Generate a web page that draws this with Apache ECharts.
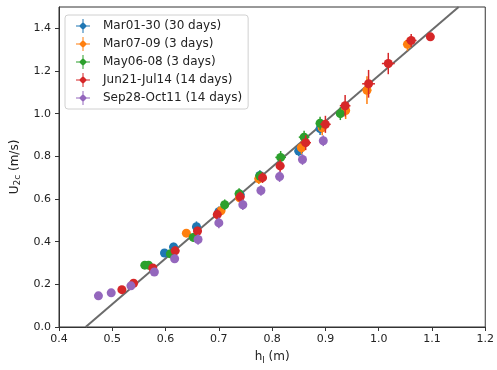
<!DOCTYPE html>
<html><head><meta charset="utf-8">
<script src="https://cdn.jsdelivr.net/npm/echarts@6/dist/echarts.min.js"></script>
<style>html,body{margin:0;padding:0;background:#fff}#c{width:497px;height:370px}</style>
</head><body><div id="c"></div>
<script>
// ---- data ----
const seriesNames = ['Mar01-30 (30 days)', 'Mar07-09 (3 days)', 'May06-08 (3 days)', 'Jun21-Jul14 (14 days)', 'Sep28-Oct11 (14 days)'];
const xTicks = [0.4, 0.5, 0.6, 0.7, 0.8, 0.9, 1.0, 1.1, 1.2];
const yTicks = [0.0, 0.2, 0.4, 0.6, 0.8, 1.0, 1.2, 1.4];

const marH = [0.598, 0.615, 0.658, 0.700, 0.740, 0.777, 0.850, 0.890];
const marU = [0.347, 0.375, 0.470, 0.540, 0.620, 0.710, 0.825, 0.930];
const marHe = [0, 0.008, 0.008, 0.008, 0.008, 0.008, 0.008, 0.008];
const marUe = [0, 0.02, 0.025, 0.025, 0.025, 0.025, 0.025, 0.03];

const mar7H = [0.639, 0.704, 0.739, 0.775, 0.855, 0.894, 0.938, 0.978, 1.054];
const mar7U = [0.440, 0.545, 0.605, 0.695, 0.840, 0.934, 1.015, 1.110, 1.325];
const mar7He = [0, 0.008, 0.008, 0.008, 0.008, 0.008, 0.008, 0.008, 0.008];
const mar7Ue = [0, 0.02, 0.02, 0.025, 0.03, 0.035, 0.04, 0.065, 0.03];

const mayH = [0.561, 0.568, 0.609, 0.652, 0.711, 0.738, 0.777, 0.816, 0.860, 0.890, 0.928];
const mayU = [0.290, 0.290, 0.343, 0.420, 0.573, 0.625, 0.708, 0.795, 0.890, 0.955, 1.000];
const mayHe = [0, 0, 0, 0.008, 0.008, 0.008, 0.008, 0.01, 0.01, 0.008, 0.008];
const mayUe = [0, 0, 0, 0.02, 0.025, 0.025, 0.025, 0.03, 0.03, 0.03, 0.03];

const junH = [0.518, 0.540, 0.576, 0.618, 0.660, 0.697, 0.740, 0.782, 0.815, 0.863, 0.900, 0.937, 0.981, 1.018, 1.061, 1.097];
const junU = [0.175, 0.205, 0.277, 0.357, 0.450, 0.527, 0.610, 0.700, 0.755, 0.864, 0.950, 1.037, 1.140, 1.235, 1.343, 1.360];
const junHe = [0, 0.006, 0.006, 0.008, 0.008, 0.008, 0.008, 0.008, 0.008, 0.01, 0.01, 0.01, 0.012, 0.012, 0.01, 0];
const junUe = [0, 0.01, 0.015, 0.02, 0.02, 0.025, 0.025, 0.025, 0.03, 0.035, 0.04, 0.05, 0.065, 0.05, 0.03, 0];

const sepH = [0.474, 0.498, 0.535, 0.579, 0.617, 0.661, 0.700, 0.745, 0.779, 0.814, 0.857, 0.896];
const sepU = [0.146, 0.160, 0.193, 0.258, 0.320, 0.410, 0.488, 0.573, 0.640, 0.705, 0.785, 0.873];
const sepHe = [0, 0, 0.006, 0.006, 0.007, 0.007, 0.007, 0.007, 0.007, 0.007, 0.007, 0.007];
const sepUe = [0, 0, 0.01, 0.015, 0.02, 0.025, 0.025, 0.025, 0.025, 0.025, 0.025, 0.025];

const fitH = [0.45, 1.15];
const fitU = [0.0, 1.5];

// ---- chart ----
const colors = ['#1f77b4', '#ff7f0e', '#2ca02c', '#d62728', '#9467bd'];
const groups = [
  [marH, marU, marHe, marUe],
  [mar7H, mar7U, mar7He, mar7Ue],
  [mayH, mayU, mayHe, mayUe],
  [junH, junU, junHe, junUe],
  [sepH, sepU, sepHe, sepUe]
];
const font = 'DejaVu Sans';
const series = [{
  type: 'line', name: 'fit', data: fitH.map((h, i) => [h, fitU[i]]), symbol: 'none', silent: true,
  lineStyle: { color: '#6b6b6b', width: 2 }, z: 1
}];
groups.forEach((g, k) => {
  const data = g[0].map((h, i) => [h, g[1][i], g[2][i], g[3][i]]);
  const col = colors[k];
  series.push({
    type: 'custom', name: 'err ' + seriesNames[k], data: data, encode: { x: 0, y: 1 },
    itemStyle: { color: col }, z: 2 + k * 2,
    renderItem: function (params, api) {
      const h = api.value(0), u = api.value(1), he = api.value(2), ue = api.value(3);
      const a = api.coord([h - he, u]), b = api.coord([h + he, u]);
      const c = api.coord([h, u - ue]), d = api.coord([h, u + ue]);
      const st = { stroke: col, lineWidth: 1.5 };
      return { type: 'group', children: [
        { type: 'line', shape: { x1: a[0], y1: a[1], x2: b[0], y2: b[1] }, style: st },
        { type: 'line', shape: { x1: c[0], y1: c[1], x2: d[0], y2: d[1] }, style: st }
      ] };
    }
  });
  series.push({
    type: 'scatter', name: seriesNames[k], data: data.map(p => [p[0], p[1]]),
    symbol: 'circle', symbolSize: 9, itemStyle: { color: col, opacity: 1 }, z: 3 + k * 2
  });
});

const subStyle = { fontFamily: font, fontSize: 9, color: '#222', verticalAlign: 'bottom', padding: [7, 0, 0, 0] };
const chart = echarts.init(document.getElementById('c'), null, { renderer: 'canvas' });
chart.setOption({
  animation: false,
  color: colors,
  grid: { left: 59, right: 8, top: 7, bottom: 41, show: true, borderColor: '#333', borderWidth: 1, backgroundColor: 'transparent' },
  legend: {
    orient: 'vertical', left: 65, top: 15,
    padding: [4, 6, 4, 11], itemGap: 4, itemWidth: 30, itemHeight: 14,
    backgroundColor: 'rgba(255,255,255,0.85)', borderColor: '#d0d0d0', borderWidth: 1, borderRadius: 3,
    icon: 'path://M13,0h2v28h-2z M0,13h28v2h-28z M14,6L22,14L14,22L6,14z',
    data: seriesNames.map((n, i) => ({ name: n, itemStyle: { color: colors[i], opacity: 1, borderWidth: 0 } })),
    textStyle: { fontFamily: font, fontSize: 12, color: '#222' }
  },
  xAxis: {
    type: 'value', min: 0.4, max: 1.2, interval: 0.1,
    name: 'h{sub|l} (m)', nameLocation: 'middle', nameGap: 22,
    nameTextStyle: { fontFamily: font, fontSize: 12, color: '#222', rich: { sub: subStyle } },
    axisLine: { show: true, lineStyle: { color: '#333', width: 1 } },
    axisTick: { show: true, length: 4, inside: false, lineStyle: { color: '#333' }, customValues: xTicks },
    axisLabel: { fontFamily: font, fontSize: 11, color: '#222', margin: 7, customValues: xTicks, formatter: v => v.toFixed(1) },
    splitLine: { show: false }
  },
  yAxis: {
    type: 'value', min: 0, max: 1.5, interval: 0.2,
    name: 'U{sub|2c} (m/s)', nameLocation: 'middle', nameGap: 33,
    nameTextStyle: { fontFamily: font, fontSize: 12, color: '#222', rich: { sub: subStyle } },
    axisLine: { show: true, lineStyle: { color: '#333', width: 1 } },
    axisTick: { show: true, length: 4, inside: false, lineStyle: { color: '#333' }, customValues: yTicks },
    axisLabel: { fontFamily: font, fontSize: 11, color: '#222', margin: 8, customValues: yTicks, formatter: v => v.toFixed(1) },
    splitLine: { show: false }
  },
  series: series
});
</script></body></html>
